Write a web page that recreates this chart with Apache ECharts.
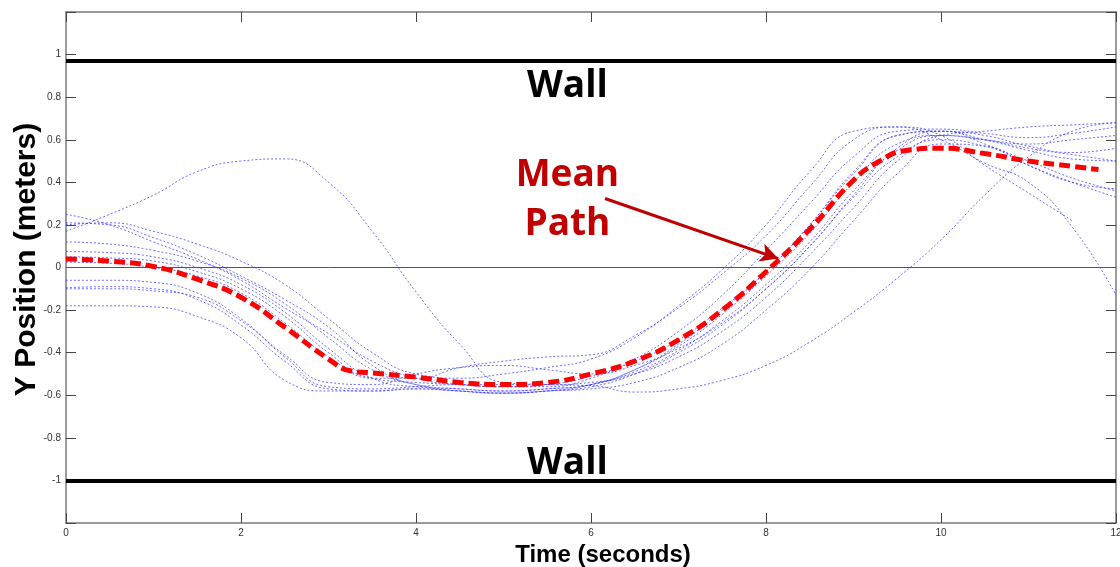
<!DOCTYPE html>
<html>
<head>
<meta charset="utf-8">
<script src="https://cdn.jsdelivr.net/npm/echarts/dist/echarts.min.js"></script>
<style>
html, body { margin: 0; padding: 0; background: #fff; }
#chart { width: 1120px; height: 567px; }
</style>
</head>
<body>
<div id="chart"></div>
<script>
// sample times (seconds) for the individual trials
var times = [0, 0.5, 1, 1.5, 2, 2.5, 3, 3.5, 4, 4.5, 5, 5.5, 6, 6.5, 7, 7.5, 8, 8.5, 9, 9.5, 10, 10.5, 11, 11.5, 12];

// y position (meters) of each trial
var trialA = [0.17, 0.25, 0.34, 0.45, 0.50, 0.51, 0.40, 0.17, -0.115, -0.36, -0.54, -0.55, -0.555, -0.585, -0.57, -0.53, -0.46, -0.35, -0.21, -0.05, 0.13, 0.34, 0.52, 0.64, 0.68];
var trialB = [0.25, 0.20, 0.12, 0.04, -0.06, -0.19, -0.31, -0.44, -0.52, -0.55, -0.56, -0.56, -0.52, -0.43, -0.30, -0.13, 0.08, 0.30, 0.52, 0.64, 0.65, 0.63, 0.61, 0.63, 0.66];
var trialC = [0.21, 0.20, 0.14, 0.06, -0.04, -0.15, -0.28, -0.46, -0.55, -0.57, -0.58, -0.57, -0.55, -0.49, -0.39, -0.25, -0.08, 0.12, 0.36, 0.55, 0.62, 0.60, 0.56, 0.53, 0.50];
var trialD = [0.20, 0.21, 0.17, 0.11, 0.03, -0.08, -0.24, -0.40, -0.50, -0.52, -0.50, -0.47, -0.43, -0.33, -0.18, -0.01, 0.20, 0.45, 0.64, 0.66, 0.60, 0.49, 0.40, 0.19, -0.13];
var trialE = [0.12, 0.11, 0.08, 0.03, -0.05, -0.17, -0.33, -0.48, -0.55, -0.58, -0.59, -0.58, -0.56, -0.50, -0.40, -0.27, -0.10, 0.10, 0.33, 0.52, 0.60, 0.57, 0.50, 0.42, 0.36];
var trialF = [0.075, 0.07, 0.05, 0.0, -0.08, -0.21, -0.38, -0.52, -0.56, -0.57, -0.58, -0.57, -0.55, -0.48, -0.37, -0.22, -0.04, 0.16, 0.40, 0.58, 0.62, 0.60, 0.58, 0.60, 0.62];
var trialG = [0.05, 0.045, 0.03, -0.02, -0.10, -0.23, -0.40, -0.52, -0.52, -0.47, -0.44, -0.42, -0.41, -0.32, -0.19, -0.03, 0.15, 0.38, 0.60, 0.66, 0.62, 0.48, 0.35, 0.22, null];
var trialH = [0.025, 0.02, 0.0, -0.04, -0.12, -0.26, -0.42, -0.52, -0.54, -0.55, -0.56, -0.55, -0.51, -0.44, -0.34, -0.19, -0.02, 0.20, 0.45, 0.62, 0.64, 0.60, 0.55, 0.51, 0.50];
var trialI = [-0.06, -0.06, -0.07, -0.12, -0.24, -0.42, -0.56, -0.57, -0.56, -0.55, -0.55, -0.55, -0.54, -0.50, -0.42, -0.30, -0.14, 0.06, 0.28, 0.50, 0.62, 0.64, 0.66, 0.67, 0.68];
var trialJ = [-0.095, -0.09, -0.10, -0.15, -0.27, -0.44, -0.57, -0.58, -0.57, -0.58, -0.59, -0.58, -0.57, -0.54, -0.47, -0.36, -0.20, -0.01, 0.22, 0.44, 0.58, 0.57, 0.48, 0.40, 0.33];
var trialK = [-0.10, -0.10, -0.11, -0.14, -0.25, -0.41, -0.54, -0.55, -0.50, -0.47, -0.46, -0.48, -0.50, -0.46, -0.38, -0.26, -0.10, 0.10, 0.34, 0.56, 0.64, 0.62, 0.57, 0.54, 0.56];
var trialL = [-0.18, -0.18, -0.185, -0.23, -0.33, -0.53, -0.58, -0.58, -0.57, -0.58, -0.59, -0.58, -0.55, -0.48, -0.36, -0.20, -0.02, 0.20, 0.44, 0.62, 0.64, 0.58, 0.48, 0.40, 0.37];

// mean path
var meanTime = [0, 0.5, 1, 1.5, 2, 2.5, 3, 3.25, 3.5, 4, 4.5, 5, 5.5, 6, 6.5, 7, 7.5, 8, 8.5, 9, 9.3, 9.6, 10, 10.5, 11, 11.5, 11.8];
var meanY = [0.04, 0.03, 0.005, -0.055, -0.14, -0.28, -0.43, -0.485, -0.495, -0.515, -0.54, -0.55, -0.54, -0.50, -0.44, -0.34, -0.20, -0.02, 0.18, 0.41, 0.50, 0.55, 0.56, 0.535, 0.50, 0.475, 0.46];

// walls
var wallTop = 0.97;
var wallBottom = -1;

var trials = [trialA, trialB, trialC, trialD, trialE, trialF, trialG, trialH, trialI, trialJ, trialK, trialL];

var myChart = echarts.init(document.getElementById('chart'));

function pair(xs, ys) {
  var out = [];
  for (var i = 0; i < xs.length; i++) {
    if (ys[i] !== null) out.push([xs[i], ys[i]]);
  }
  return out;
}

var series = trials.map(function (tr) {
  return {
    type: 'line',
    data: pair(times, tr),
    smooth: 0.5,
    symbol: 'none',
    silent: true,
    z: 3,
    lineStyle: { color: 'rgba(30,30,255,0.65)', width: 1, type: [2, 2] }
  };
});

series.push({
  type: 'line',
  data: pair(meanTime, meanY),
  smooth: 0.5,
  symbol: 'none',
  silent: true,
  z: 5,
  lineStyle: { color: '#ff0000', width: 5, type: [11, 5] },
  markLine: {
    silent: true,
    symbol: 'none',
    label: { show: false },
    animation: false,
    data: [
      { yAxis: wallTop, lineStyle: { color: '#000', width: 4, type: 'solid' } },
      { yAxis: wallBottom, lineStyle: { color: '#000', width: 4, type: 'solid' } },
      { yAxis: 0, lineStyle: { color: '#555', width: 1, type: 'solid' } },
      [
        { coord: [6.16, 0.324], symbol: 'none', lineStyle: { color: '#c00000', width: 3, type: 'solid' } },
        { coord: [8.14, 0.042], symbol: 'arrow', symbolSize: [14, 18] }
      ]
    ]
  }
});

var axisCol = '#7a7a7a';
var labelStyle = { fontFamily: 'Liberation Sans', fontSize: 10, color: '#333' };
var tickStyle = { show: true, inside: true, length: 10, lineStyle: { color: '#444' } };
var lineStyleAxis = { show: true, onZero: false, lineStyle: { color: axisCol, width: 1.5 } };

var option = {
  animation: false,
  backgroundColor: '#fff',
  grid: { left: 66, right: 4, top: 12, bottom: 44, outerBoundsMode: 'none', containLabel: false },
  xAxis: [{
    type: 'value', min: 0, max: 12, interval: 2,
    name: 'Time (seconds)', nameLocation: 'middle', nameGap: 18,
    nameTextStyle: { fontFamily: 'Liberation Sans', fontWeight: 'bold', fontSize: 24, color: '#000', padding: [0, 0, 0, 24] },
    axisLine: lineStyleAxis,
    axisTick: tickStyle,
    axisLabel: Object.assign({ margin: 5 }, labelStyle),
    splitLine: { show: false }
  }, {
    type: 'value', min: 0, max: 12, interval: 2, position: 'top',
    axisLine: lineStyleAxis,
    axisTick: tickStyle,
    axisLabel: { show: false },
    splitLine: { show: false }
  }],
  yAxis: [{
    type: 'value', min: -1.2, max: 1.2, interval: 0.2,
    name: 'Y Position (meters)', nameLocation: 'middle', nameGap: 24, nameRotate: 90,
    nameMoveOverlap: false,
    nameTextStyle: { fontFamily: 'Liberation Sans', fontWeight: 'bold', fontSize: 30, color: '#000', padding: [0, 0, 0, 16] },
    axisLine: lineStyleAxis,
    axisTick: tickStyle,
    axisLabel: Object.assign({
      margin: 5,
      formatter: function (v) {
        if (Math.abs(v) > 1.05) return '';
        return String(Math.round(v * 10) / 10);
      }
    }, labelStyle),
    splitLine: { show: false }
  }, {
    type: 'value', min: -1.2, max: 1.2, interval: 0.2, position: 'right',
    axisLine: lineStyleAxis,
    axisTick: tickStyle,
    axisLabel: { show: false },
    splitLine: { show: false }
  }],
  series: series
};

myChart.setOption(option);

// annotations placed in data coordinates
function textAt(x, y, str, color) {
  var p = myChart.convertToPixel({ gridIndex: 0 }, [x, y]);
  return {
    type: 'text', x: p[0], y: p[1], z: 10, silent: true,
    style: {
      text: str, fill: color, align: 'center', verticalAlign: 'middle',
      font: 'bold 37px "Open Sans", sans-serif'
    }
  };
}

myChart.setOption({
  graphic: [
    textAt(5.73, 0.85, 'Wall', '#000'),
    textAt(5.73, -0.92, 'Wall', '#000'),
    textAt(5.73, 0.432, 'Mean', '#c00000'),
    textAt(5.73, 0.2, 'Path', '#c00000')
  ]
});
</script>
</body>
</html>
